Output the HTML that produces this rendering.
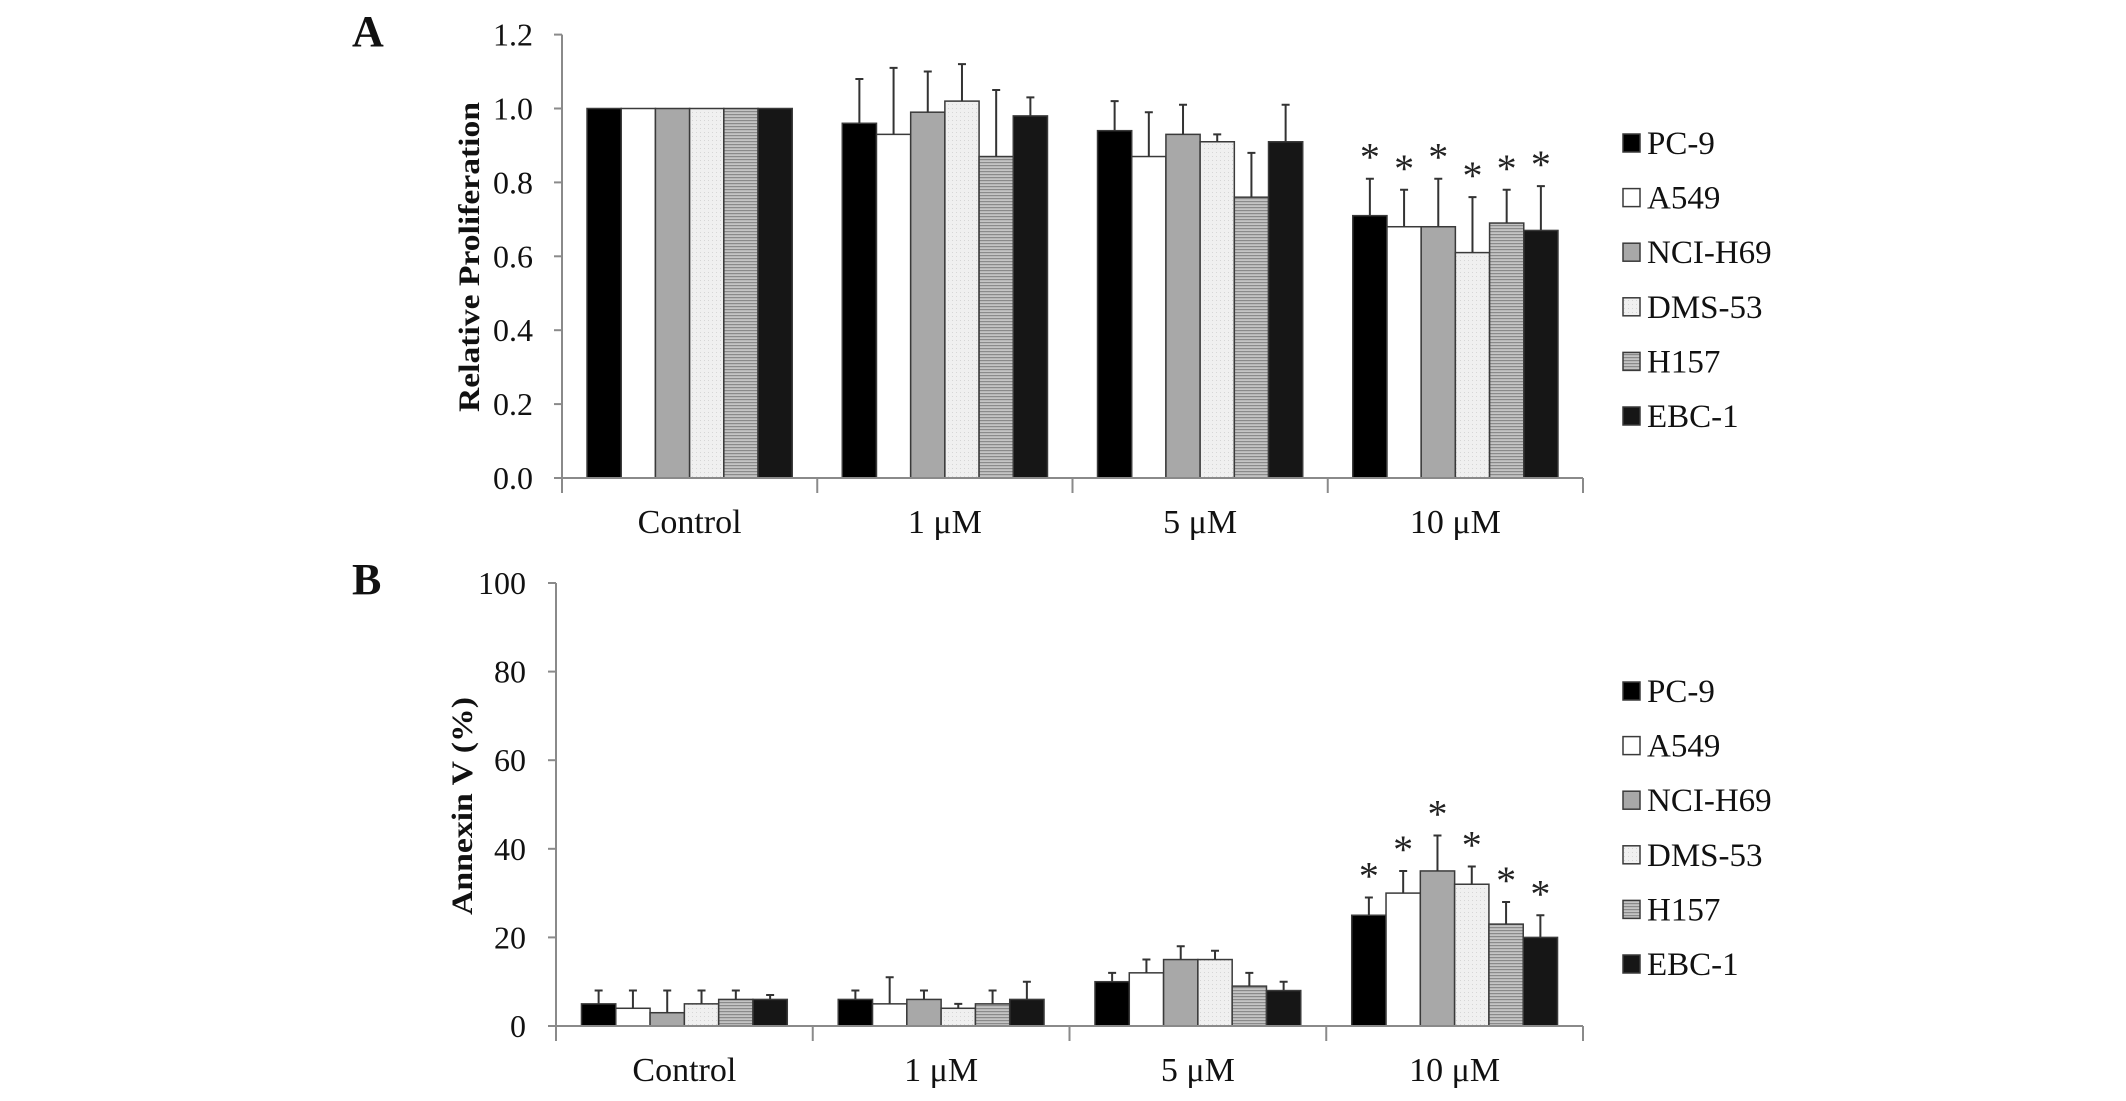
<!DOCTYPE html>
<html><head><meta charset="utf-8"><style>
html,body{margin:0;padding:0;background:#fff;}
svg{display:block;font-family:"Liberation Serif","Times New Roman",serif;}
</style></head>
<body>
<svg id="fig" width="2126" height="1101" viewBox="0 0 2126 1101">
<defs>
<pattern id="hstripe" width="6" height="3" patternUnits="userSpaceOnUse">
<rect width="6" height="3" fill="#c4c4c4"/><rect width="6" height="1.2" fill="#8a8a8a"/>
</pattern>
<pattern id="dots" width="4" height="4" patternUnits="userSpaceOnUse">
<rect width="4" height="4" fill="#f0f0f0"/><rect width="1" height="1" fill="#d6d6d6"/>
</pattern>
</defs>
</svg>
<script>
const categories = ["Control", "1 μM", "5 μM", "10 μM"];
const seriesNames = ["PC-9", "A549", "NCI-H69", "DMS-53", "H157", "EBC-1"];
// Panel A: relative proliferation [series][category]
const propPC9 = [1.0, 0.96, 0.94, 0.71];
const propA549 = [1.0, 0.93, 0.87, 0.68];
const propH69 = [1.0, 0.99, 0.93, 0.68];
const propDMS53 = [1.0, 1.02, 0.91, 0.61];
const propH157 = [1.0, 0.87, 0.76, 0.69];
const propEBC1 = [1.0, 0.98, 0.91, 0.67];
const proErrPC9 = [0, 0.12, 0.08, 0.10];
const proErrA549 = [0, 0.18, 0.12, 0.10];
const proErrH69 = [0, 0.11, 0.08, 0.13];
const proErrDMS53 = [0, 0.10, 0.02, 0.15];
const proErrH157 = [0, 0.18, 0.12, 0.09];
const proErrEBC1 = [0, 0.05, 0.10, 0.12];
const proStars = [false, false, false, true];
const proTicks = ["0.0", "0.2", "0.4", "0.6", "0.8", "1.0", "1.2"];
// Panel B: Annexin V (%)
const annPC9 = [5, 6, 10, 25];
const annA549 = [4, 5, 12, 30];
const annH69 = [3, 6, 15, 35];
const annDMS53 = [5, 4, 15, 32];
const annH157 = [6, 5, 9, 23];
const annEBC1 = [6, 6, 8, 20];
const annErrPC9 = [3, 2, 2, 4];
const annErrA549 = [4, 6, 3, 5];
const annErrH69 = [5, 2, 3, 8];
const annErrDMS53 = [3, 1, 2, 4];
const annErrH157 = [2, 3, 3, 5];
const annErrEBC1 = [1, 4, 2, 5];
const annStars = [false, false, false, true];
const annTicks = ["0", "20", "40", "60", "80", "100"];

const NS = "http://www.w3.org/2000/svg";
const svg = document.getElementById("fig");
const fills = ["#000000", "#ffffff", "#a8a8a8", "url(#dots)", "url(#hstripe)", "#161616"];
const keys = ["pc-9", "a549", "nci-h69", "dms-53", "h157", "ebc-1"];

function el(tag, attrs, parent) {
  const e = document.createElementNS(NS, tag);
  for (const k in attrs) e.setAttribute(k, attrs[k]);
  (parent || svg).appendChild(e);
  return e;
}
function txt(s, attrs, parent) { const t = el("text", attrs, parent); t.textContent = s; return t; }

function drawPanel(cfg) {
  const g = el("g", {});
  
  
  const y = v => cfg.y0 - (v - cfg.min) / (cfg.max - cfg.min) * (cfg.y0 - cfg.y1);
  const catW = (cfg.xEnd - cfg.x0) / categories.length;
  const x = i => cfg.x0 + i * catW;
  // panel letter
  const L = txt(cfg.letter, {x: 352, y: cfg.letterY, "font-size": 44, "font-weight": "bold", fill: "#111"}, g);
  
  
  // bars
  const groupW = cfg.barW * 6;
  for (let c = 0; c < categories.length; c++) {
    const gx = x(c) + (catW - groupW) / 2;
    for (let s = 0; s < 6; s++) {
      const v = cfg.vals[s][c], e = cfg.errs[s][c];
      const bx = gx + s * cfg.barW;
      const r = el("rect", {x: bx, y: y(v), width: cfg.barW, height: y(cfg.min) - y(v), fill: fills[s], stroke: "#3a3a3a", "stroke-width": 1.5}, g);
      
      
      if (e > 0) {
        const cx = bx + cfg.barW / 2;
        const eb = el("path", {d: `M${cx},${y(v)}V${y(v + e)}M${cx - 4},${y(v + e)}H${cx + 4}`, stroke: "#333", "stroke-width": 2, fill: "none"}, g);
        
        
      }
      if (cfg.stars[c]) {
        const st = txt("*", {x: bx + cfg.barW / 2, y: y(v + e) - 8, "font-size": 40, "text-anchor": "middle", fill: "#222"}, g);
        
        
      }
    }
  }
  // axes
  const ya = el("line", {x1: cfg.x0, y1: cfg.y1, x2: cfg.x0, y2: cfg.y0 + 15, stroke: "#8a8a8a", "stroke-width": 2}, g);
  
  
  const xa = el("line", {x1: cfg.x0, y1: cfg.y0, x2: cfg.xEnd, y2: cfg.y0, stroke: "#8a8a8a", "stroke-width": 2}, g);
  
  
  for (let c = 0; c <= categories.length; c++) {
    el("line", {x1: x(c), y1: cfg.y0, x2: x(c), y2: cfg.y0 + 15, stroke: "#8a8a8a", "stroke-width": 2}, g);
  }
  for (let c = 0; c < categories.length; c++) {
    const t = txt(categories[c], {x: x(c) + catW / 2, y: cfg.catY, "font-size": 34, "text-anchor": "middle", fill: "#111"}, g);
    
    
  }
  cfg.ticks.forEach(lbl => {
    const v = parseFloat(lbl);
    el("line", {x1: cfg.x0 - 8, y1: y(v), x2: cfg.x0, y2: y(v), stroke: "#8a8a8a", "stroke-width": 2}, g);
    const t = txt(lbl, {x: cfg.tickRight, y: y(v) + 11, "font-size": 32, "text-anchor": "end", fill: "#111"}, g);
    
    
  });
  const tt = txt(cfg.title, {x: 0, y: 0, "font-size": 30, "font-weight": "bold", "text-anchor": "middle", fill: "#111",
    transform: `translate(${cfg.titleX},${cfg.titleY}) rotate(-90)`, textLength: cfg.titleLen, lengthAdjust: "spacingAndGlyphs"}, g);
  
  
  // legend
  const lg = el("g", {}, g);
  
  
  seriesNames.forEach((n, s) => {
    const cy = cfg.legY[0] + s * cfg.legStep;
    const eg = el("g", {}, lg);
    
    
    el("rect", {x: 1623, y: cy - 9, width: 17, height: 18, fill: fills[s], stroke: "#3a3a3a", "stroke-width": 1.5}, eg);
    txt(n, {x: 1647, y: cy + 11, "font-size": 33, fill: "#111"}, eg);
  });
}

drawPanel({name: "panel-a-proliferation", letter: "A", letterY: 46, x0: 562, xEnd: 1583, y0: 478, y1: 34.6, min: 0, max: 1.2,
  barW: 34.2, vals: [propPC9, propA549, propH69, propDMS53, propH157, propEBC1],
  errs: [proErrPC9, proErrA549, proErrH69, proErrDMS53, proErrH157, proErrEBC1],
  stars: proStars, ticks: proTicks, catY: 533, tickRight: 533,
  title: "Relative Proliferation", titleX: 479, titleY: 257, titleLen: 310,
  legY: [143], legStep: 54.6});
drawPanel({name: "panel-b-annexin", letter: "B", letterY: 594, x0: 556, xEnd: 1583, y0: 1026, y1: 583, min: 0, max: 100,
  barW: 34.3, vals: [annPC9, annA549, annH69, annDMS53, annH157, annEBC1],
  errs: [annErrPC9, annErrA549, annErrH69, annErrDMS53, annErrH157, annErrEBC1],
  stars: annStars, ticks: annTicks, catY: 1081, tickRight: 526,
  title: "Annexin V (%)", titleX: 472, titleY: 806, titleLen: 218,
  legY: [691], legStep: 54.6});
</script>
</body></html>
